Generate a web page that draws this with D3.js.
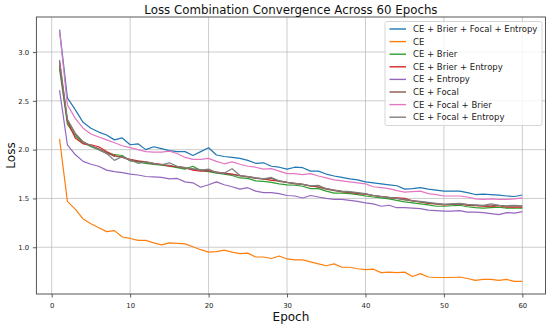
<!DOCTYPE html>
<html><head><meta charset="utf-8">
<script src="https://cdn.jsdelivr.net/npm/d3@7"></script>
<style>body{margin:0;background:#fff;} svg{display:block;font-family:"DejaVu Sans",sans-serif;}</style>
</head><body><svg id="c" width="550" height="327"></svg>
<script>
const epochs = d3.range(1, 61);
const seriesNames = ["CE + Brier + Focal + Entropy","CE","CE + Brier","CE + Brier + Entropy","CE + Entropy","CE + Focal","CE + Focal + Brier","CE + Focal + Entropy"];
const seriesColors = ["#1f77b4","#ff7f0e","#2ca02c","#d62728","#9467bd","#8c564b","#e377c2","#7f7f7f"];
const ceBrierFocalEntropy = [3.23,2.53,2.41,2.28,2.22,2.18,2.15,2.10,2.12,2.05,2.06,2.00,2.03,2.01,1.99,1.98,1.98,1.94,1.98,2.02,1.945,1.93,1.92,1.91,1.89,1.86,1.865,1.83,1.82,1.80,1.82,1.815,1.78,1.78,1.75,1.73,1.715,1.70,1.69,1.67,1.66,1.65,1.64,1.63,1.595,1.60,1.61,1.595,1.585,1.575,1.575,1.575,1.56,1.54,1.545,1.54,1.535,1.525,1.52,1.535];
const ce = [2.11,1.47,1.39,1.29,1.24,1.20,1.16,1.17,1.105,1.09,1.07,1.07,1.045,1.025,1.045,1.04,1.035,1.005,0.975,0.95,0.955,0.97,0.95,0.935,0.94,0.90,0.90,0.885,0.91,0.88,0.87,0.87,0.85,0.83,0.81,0.83,0.795,0.795,0.78,0.77,0.775,0.74,0.745,0.74,0.745,0.70,0.73,0.695,0.69,0.69,0.69,0.695,0.68,0.66,0.67,0.67,0.66,0.67,0.65,0.65];
const ceBrier = [2.83,2.26,2.14,2.07,2.03,2.00,1.96,1.95,1.94,1.885,1.875,1.86,1.85,1.84,1.83,1.815,1.80,1.83,1.785,1.775,1.76,1.75,1.735,1.71,1.705,1.68,1.675,1.665,1.65,1.64,1.635,1.625,1.60,1.60,1.575,1.555,1.555,1.55,1.54,1.525,1.515,1.505,1.495,1.48,1.465,1.455,1.445,1.435,1.42,1.42,1.425,1.43,1.415,1.405,1.40,1.405,1.41,1.40,1.40,1.40];
const ceBrierEntropy = [2.90,2.29,2.12,2.06,2.05,2.03,1.98,1.94,1.92,1.90,1.885,1.875,1.86,1.85,1.83,1.825,1.815,1.79,1.78,1.785,1.77,1.76,1.75,1.735,1.725,1.71,1.70,1.685,1.68,1.665,1.655,1.645,1.625,1.62,1.60,1.585,1.57,1.565,1.55,1.545,1.53,1.52,1.51,1.505,1.50,1.475,1.465,1.45,1.445,1.435,1.44,1.445,1.43,1.425,1.42,1.415,1.425,1.41,1.41,1.41];
const ceEntropy = [2.61,2.05,1.95,1.88,1.85,1.83,1.79,1.775,1.765,1.75,1.74,1.725,1.72,1.715,1.70,1.705,1.67,1.66,1.615,1.64,1.67,1.64,1.62,1.595,1.61,1.575,1.56,1.56,1.55,1.53,1.525,1.505,1.53,1.515,1.50,1.49,1.49,1.48,1.47,1.455,1.445,1.42,1.43,1.405,1.405,1.40,1.395,1.38,1.375,1.37,1.37,1.375,1.36,1.36,1.355,1.345,1.335,1.355,1.35,1.365];
const ceFocal = [2.86,2.30,2.16,2.08,2.04,2.01,1.97,1.93,1.925,1.89,1.88,1.87,1.855,1.845,1.84,1.825,1.81,1.80,1.795,1.78,1.77,1.755,1.745,1.73,1.72,1.705,1.70,1.705,1.675,1.665,1.65,1.645,1.63,1.615,1.595,1.58,1.57,1.56,1.555,1.545,1.53,1.52,1.505,1.50,1.485,1.475,1.465,1.455,1.445,1.44,1.44,1.445,1.435,1.43,1.425,1.425,1.43,1.42,1.42,1.42];
const ceFocalBrier = [3.22,2.46,2.32,2.22,2.16,2.13,2.10,2.07,2.04,2.02,2.00,1.98,1.975,1.975,1.985,1.96,1.92,1.90,1.90,1.91,1.88,1.855,1.875,1.85,1.83,1.82,1.80,1.805,1.78,1.755,1.755,1.745,1.755,1.73,1.71,1.69,1.68,1.67,1.66,1.65,1.62,1.61,1.60,1.58,1.565,1.57,1.575,1.55,1.54,1.525,1.525,1.525,1.515,1.495,1.49,1.495,1.49,1.49,1.495,1.505];
const ceFocalEntropy = [2.92,2.31,2.17,2.08,2.04,2.00,1.96,1.89,1.93,1.895,1.86,1.875,1.86,1.845,1.865,1.83,1.815,1.805,1.79,1.80,1.765,1.76,1.805,1.735,1.725,1.71,1.70,1.715,1.68,1.665,1.655,1.645,1.63,1.635,1.60,1.585,1.575,1.57,1.56,1.55,1.53,1.52,1.51,1.50,1.49,1.475,1.47,1.46,1.45,1.44,1.445,1.45,1.44,1.435,1.43,1.445,1.43,1.425,1.43,1.425];
const seriesValues = [ceBrierFocalEntropy, ce, ceBrier, ceBrierEntropy, ceEntropy, ceFocal, ceFocalBrier, ceFocalEntropy];
const xTicks = [0,10,20,30,40,50,60];
const yTicks = [1.0,1.5,2.0,2.5,3.0];

const svg = d3.select("#c");
const L = 36.4, R = 545.5, T = 17, B = 294;
const allVals = seriesValues.flat();
const yMin = d3.min(allVals), yMax = d3.max(allVals);
const yPad = (yMax - yMin) * 0.05;
const x = d3.scaleLinear().domain([1 - 59*0.05, 60 + 59*0.05]).range([L, R]);
const y = d3.scaleLinear().domain([yMin - yPad, yMax + yPad]).range([B, T]);

// grid
const g = svg.append("g");
g.selectAll(".gx").data(xTicks).enter().append("line")
  .attr("x1", d => x(d)).attr("x2", d => x(d)).attr("y1", T).attr("y2", B)
  .attr("stroke", "#b0b0b0").attr("stroke-opacity", 0.7).attr("stroke-width", 0.9);
g.selectAll(".gy").data(yTicks).enter().append("line")
  .attr("y1", d => y(d)).attr("y2", d => y(d)).attr("x1", L).attr("x2", R)
  .attr("stroke", "#b0b0b0").attr("stroke-opacity", 0.7).attr("stroke-width", 0.9);

// axes
const xAxis = svg.append("g").attr("transform", `translate(0,${B})`)
  .call(d3.axisBottom(x).tickValues(xTicks).tickFormat(d3.format("d")).tickSize(3.5).tickSizeOuter(0));
const yAxis = svg.append("g").attr("transform", `translate(${L},0)`)
  .call(d3.axisLeft(y).tickValues(yTicks).tickFormat(d3.format(".1f")).tickSize(3.5).tickSizeOuter(0));
[xAxis, yAxis].forEach(a => {
  a.select(".domain").remove();
  a.selectAll(".tick line").attr("stroke", "#333").attr("stroke-width", 0.8);
  a.selectAll(".tick text").attr("font-size", "6.9px").attr("fill", "#222").attr("font-family", "DejaVu Sans");
});
xAxis.selectAll(".tick text").attr("dy", "1.05em");
yAxis.selectAll(".tick text").attr("dx", "-0.1em");

// lines
const line = d3.line().x((d, i) => x(epochs[i])).y(d => y(d));
seriesValues.forEach((vals, k) => {
  svg.append("path").datum(vals).attr("d", line)
    .attr("fill", "none").attr("stroke", seriesColors[k]).attr("stroke-width", 1.2)
    .attr("stroke-linejoin", "round");
});

// frame
svg.append("rect").attr("x", L).attr("y", T).attr("width", R - L).attr("height", B - T)
  .attr("fill", "none").attr("stroke", "#444").attr("stroke-width", 0.9);

// title and labels
svg.append("text").attr("x", (L + R) / 2).attr("y", 14).attr("text-anchor", "middle")
  .attr("font-size", "11.8px").attr("fill", "#111").text("Loss Combination Convergence Across 60 Epochs");
svg.append("text").attr("x", (L + R) / 2).attr("y", 321).attr("text-anchor", "middle")
  .attr("font-size", "12px").attr("fill", "#111").text("Epoch");
svg.append("text").attr("transform", `translate(15,${(T + B) / 2}) rotate(-90)`).attr("text-anchor", "middle")
  .attr("font-size", "12px").attr("fill", "#111").text("Loss");

// legend
const lg = svg.append("g");
lg.append("rect").attr("x", 385).attr("y", 21.5).attr("width", 157).attr("height", 104).attr("rx", 2)
  .attr("fill", "#fff").attr("fill-opacity", 0.8).attr("stroke", "#ccc").attr("stroke-width", 0.8);
seriesNames.forEach((n, k) => {
  const yy = 29 + k * 12.6;
  lg.append("line").attr("x1", 389.5).attr("x2", 406).attr("y1", yy).attr("y2", yy)
    .attr("stroke", seriesColors[k]).attr("stroke-width", 1.4);
  lg.append("text").attr("x", 413).attr("y", yy).attr("dy", "0.35em")
    .attr("font-size", "8.5px").attr("fill", "#222").text(n);
});
</script></body></html>
